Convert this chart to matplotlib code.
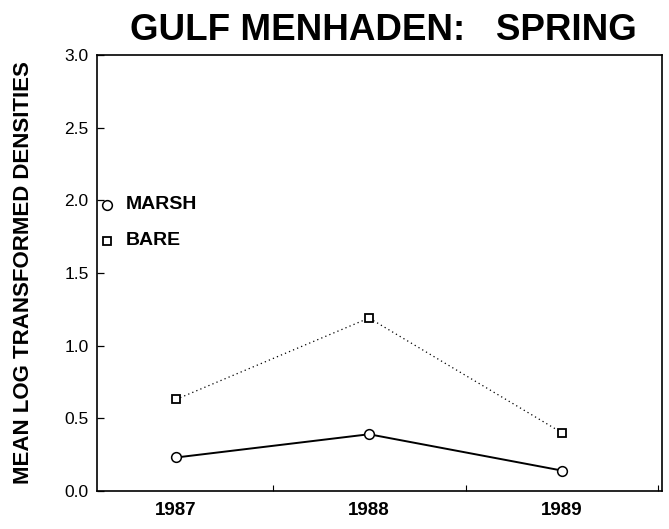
import matplotlib
matplotlib.use("Agg")
import matplotlib.pyplot as plt
from matplotlib.ticker import MultipleLocator

plt.rcParams['font.family'] = ['Liberation Sans', 'DejaVu Sans']

years = [1987, 1988, 1989]
year_labels = ["1987", "1988", "1989"]
marsh = [0.23, 0.39, 0.14]
bare = [0.63, 1.19, 0.40]

fig = plt.figure(figsize=(6.69, 5.29), dpi=100)
ax = fig.add_axes([0.145, 0.072, 0.845, 0.824])

ax.plot(years, bare, color="black", linestyle=(0, (1, 2.5)), linewidth=0.9,
        marker="s", markersize=6, markerfacecolor="white", markeredgecolor="black",
        markeredgewidth=1.3, label="BARE")
ax.plot(years, marsh, color="black", linestyle="-", linewidth=1.4,
        marker="o", markersize=7, markerfacecolor="white", markeredgecolor="black",
        markeredgewidth=1.1, label="MARSH")

ax.set_xlim(1986.59, 1989.52)
ax.set_ylim(0, 3.0)
ax.set_xticks(years)
ax.set_xticklabels(year_labels, fontsize=13.5, fontweight="bold")
ax.xaxis.set_minor_locator(MultipleLocator(0.5))
ax.tick_params(axis="x", which="major", length=0, pad=8)
ax.tick_params(axis="x", which="minor", direction="in", length=4, width=0.8)
ax.yaxis.set_major_locator(MultipleLocator(0.5))
ax.yaxis.set_major_formatter(matplotlib.ticker.FormatStrFormatter("%.1f"))
ax.tick_params(axis="y", direction="in", length=5, width=0.9, labelsize=12.5, pad=6)
for s in ax.spines.values():
    s.set_linewidth(1.2)

ax.set_ylabel("MEAN LOG TRANSFORMED DENSITIES", fontsize=16, fontweight="bold", labelpad=22)
fig.text(0.573, 0.942, "GULF MENHADEN:   SPRING", fontsize=26.5, fontweight="bold",
         ha="center", va="center")

# legend drawn as markers with labels
ax.plot([1986.64], [1.97], marker="o", markersize=7, markerfacecolor="white",
        markeredgecolor="black", markeredgewidth=1.1, linestyle="none")
ax.plot([1986.64], [1.72], marker="s", markersize=6, markerfacecolor="white",
        markeredgecolor="black", markeredgewidth=1.3, linestyle="none")
ax.text(1986.74, 1.97, "MARSH", fontsize=14, fontweight="bold", va="center")
ax.text(1986.74, 1.72, "BARE", fontsize=14, fontweight="bold", va="center")

fig.savefig("out.png", dpi=100)
